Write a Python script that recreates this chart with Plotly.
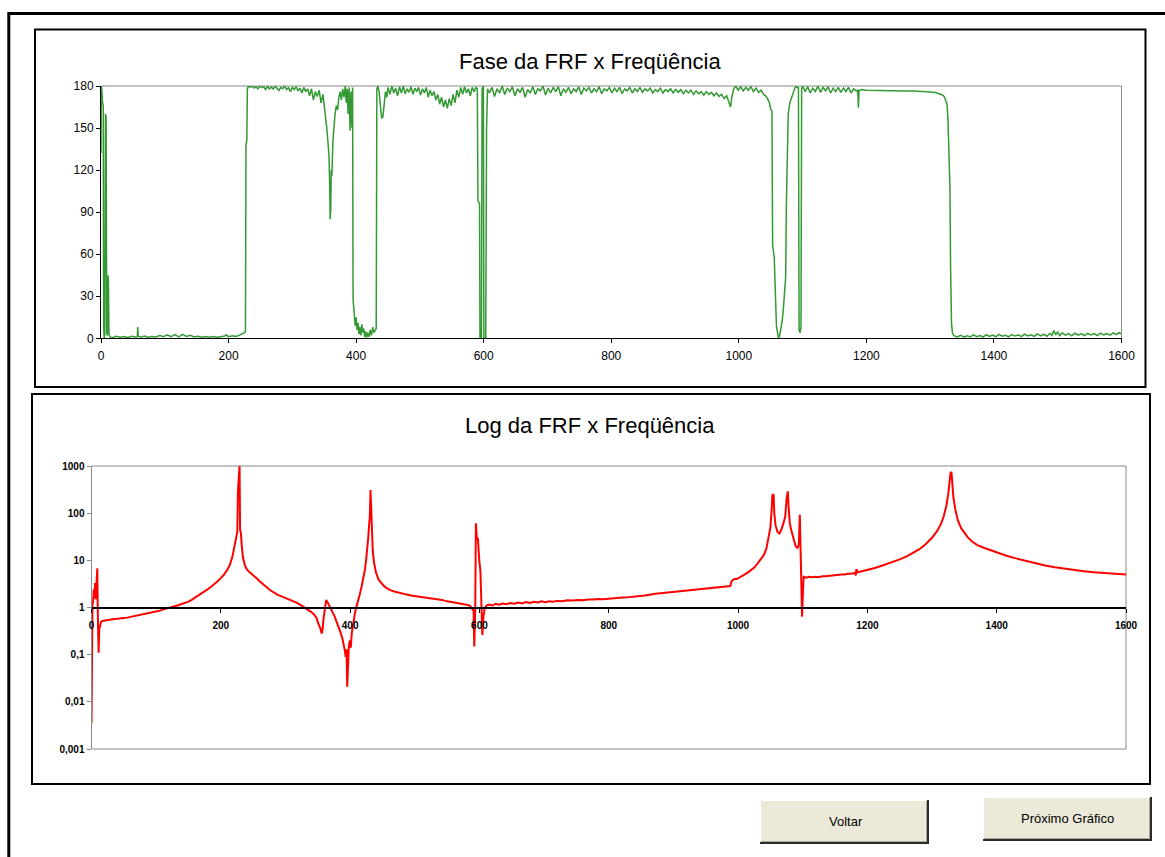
import plotly.graph_objects as go

W, H = 1165, 857

# ---------------- Fase da FRF (graus) ----------------
fase_freq = [
    0, 0.5, 1.5, 2.5, 3.5, 4.2, 5, 6, 7, 8,
    9, 10, 10.8, 11.6, 12.5, 14, 18, 24, 30, 36,
    42, 48, 54, 57, 57.5, 58.5, 62, 68, 74, 80,
    86, 92, 98, 104, 110, 116, 122, 128, 134, 140,
    146, 152, 158, 164, 170, 176, 182, 188, 194, 196,
    200, 206, 212, 218, 222, 225, 226.5, 227.3, 228.6, 229.5,
    231, 234, 237, 240, 243, 246, 249, 252, 255, 258,
    261, 264, 267, 270, 273, 276, 279, 282, 285, 288,
    291, 294, 297, 300, 303, 306, 309, 312, 315, 318,
    321, 324, 327, 330, 333, 336, 339, 342, 345, 348,
    350, 352, 354, 356, 357.5, 358.5, 359.3, 360.2, 361, 362,
    363.5, 365, 367, 369, 371, 373, 375, 377, 379, 381,
    383, 384.5, 386, 387.5, 389, 390.5, 392, 393.5, 394.5, 395.2,
    396, 397, 398.5, 400, 401.5, 403, 404.5, 406, 407.5, 409,
    410.5, 412, 413.5, 415, 416.5, 418, 420, 422, 424, 426,
    428, 430, 431.5, 432.5, 434, 436, 438, 440, 442, 444,
    446, 448, 450, 453, 456, 459, 462, 465, 468, 471,
    474, 477, 480, 483, 486, 489, 492, 495, 498, 501,
    504, 507, 510, 513, 516, 519, 522, 525, 528, 531,
    534, 537, 540, 543, 546, 549, 552, 555, 558, 561,
    564, 567, 570, 573, 576, 579, 582, 585, 588, 590,
    591, 593.5, 594.2, 596.5, 597.5, 599.5, 600.3, 603.2, 604.5, 606,
    609, 613, 617, 621, 625, 629, 633, 637, 641, 645,
    649, 653, 657, 661, 665, 669, 673, 677, 681, 685,
    689, 693, 697, 701, 705, 709, 713, 717, 721, 725,
    729, 733, 737, 741, 745, 749, 753, 757, 761, 765,
    769, 773, 777, 781, 785, 789, 793, 797, 801, 805,
    809, 813, 817, 821, 825, 829, 833, 837, 841, 845,
    849, 853, 857, 861, 865, 869, 873, 877, 881, 885,
    889, 893, 897, 901, 905, 909, 913, 917, 921, 925,
    929, 933, 937, 941, 945, 949, 953, 957, 961, 965,
    969, 973, 977, 981, 985, 987, 989, 992, 995, 999,
    1003, 1007, 1011, 1015, 1019, 1023, 1027, 1031, 1035, 1039,
    1042, 1045, 1048, 1050, 1052, 1053, 1055.5, 1057.5, 1059, 1061,
    1062.5, 1064, 1066, 1068, 1070, 1072, 1073.5, 1074.5, 1076, 1077.5,
    1080, 1083, 1086, 1089, 1091, 1093.5, 1094.5, 1096, 1097.5, 1098.5,
    1100, 1104, 1108, 1112, 1116, 1120, 1124, 1128, 1132, 1136,
    1140, 1144, 1148, 1152, 1156, 1160, 1164, 1168, 1172, 1176,
    1180, 1184, 1186.5, 1187.5, 1188.5, 1192, 1200, 1215, 1230, 1245,
    1260, 1275, 1290, 1300, 1308, 1314, 1318.5, 1322, 1324, 1326.5,
    1328, 1329.5, 1331, 1332, 1333.5, 1335, 1337, 1342, 1348, 1353,
    1358, 1363, 1368, 1373, 1378, 1383, 1388, 1393, 1398, 1403,
    1408, 1413, 1418, 1423, 1428, 1433, 1438, 1443, 1448, 1453,
    1458, 1463, 1468, 1473, 1478, 1483, 1488, 1491, 1494, 1497,
    1500, 1503, 1507, 1512, 1517, 1522, 1527, 1532, 1537, 1542,
    1547, 1552, 1557, 1562, 1567, 1572, 1577, 1582, 1587, 1592,
    1596, 1600,
]
fase_graus = [
    132, 180, 176, 168, 166, 8, 0, 3, 160, 158,
    4, 2, 45, 42, 3, 1, 0.5, 1.5, 0.8, 1.2,
    0.6, 1.4, 1.0, 1.2, 8, 1.5, 0.8, 1.6, 0.7, 1.3,
    0.9, 2.0, 1.1, 2.4, 1.2, 2.6, 1.0, 2.8, 1.3, 2.2,
    0.9, 1.5, 0.8, 1.3, 0.7, 1.2, 0.8, 1.0, 1.6, 2.5,
    1.2, 1.8, 1.3, 2.4, 3.2, 4.0, 5, 138, 141, 178,
    180, 179, 180, 178.5, 179.5, 178, 180, 178.8, 179.5, 177.5,
    179.8, 178, 179.2, 177.8, 180, 178.5, 176.8, 179, 178, 180,
    177.5, 178.8, 176, 179, 177.5, 179.5, 176.5, 178.5, 175, 179,
    176, 178, 173, 178, 170, 176, 172.5, 177, 168, 174,
    166, 160, 150, 139, 130, 110, 85, 92, 120, 116,
    140, 150, 160, 166, 163, 172, 176, 170, 178, 172,
    180, 168, 178, 160, 179, 148, 176, 150, 179, 28,
    22, 14, 9, 15, 6, 11, 3, 8, 2, 10,
    4, 7, 1, 5, 0.5, 4, 1, 6, 2, 8,
    4, 6, 7, 178, 180, 176, 168, 157, 158, 168,
    176, 172, 179, 174, 180, 175, 178.5, 173, 179.5, 175,
    180, 174.5, 178, 175.5, 179.5, 174, 178.5, 176, 179, 173.5,
    178, 175, 179, 172, 177, 173, 176, 170, 174, 167,
    172, 165, 170, 164, 171, 166, 174, 168, 177, 172,
    179, 174, 179.5, 175, 178, 173, 179, 176, 179, 178,
    98, 96, 0, 0, 178, 180, 0, 0, 150, 178,
    175, 179, 172.5, 178, 175, 180, 174, 178.5, 176, 179.5,
    173, 178, 175.5, 179, 172, 177.5, 175, 179.5, 174, 178,
    176.5, 180, 173.5, 178.5, 175, 179, 176, 179.5, 173, 178,
    175.5, 179, 174.5, 178, 176, 179.5, 174, 178.5, 176.5, 179,
    175, 178, 176, 179.5, 174.5, 178, 176.5, 179, 175, 178.5,
    176, 179, 174.5, 178, 176.5, 179, 175, 178, 176, 179,
    175.5, 178, 176.5, 178.5, 175, 177.5, 176, 178.5, 175, 177.5,
    176, 178, 175, 177.5, 175.5, 177.5, 174.5, 177, 175, 177,
    174, 176.5, 174.5, 176, 173.5, 176, 174, 175.5, 173, 175,
    172.5, 174, 171, 173, 168, 165, 172, 178, 180, 177,
    179.5, 176.5, 179, 177, 179.5, 176, 178.5, 175.5, 177, 174,
    173, 171, 168, 163.5, 162, 66, 58, 30, 9, 3,
    0, 2, 8, 12, 22, 38, 44, 94, 120, 160,
    168, 172, 177, 180, 179, 179, 6, 4, 8, 178,
    180, 176, 179.5, 175, 178.5, 176, 180, 175.5, 179, 176.5,
    179.5, 175, 178.5, 176, 179, 175.5, 178.5, 176, 179, 175,
    178, 176.5, 177, 164.5, 176.5, 177.5, 177, 177, 176.8, 176.7,
    176.5, 176.4, 176.2, 175.8, 175.3, 174.7, 173.8, 172.5, 170.5, 167,
    155, 130, 108, 51, 10.5, 4, 2, 1, 2.2, 0.8,
    1.8, 1.0, 2.4, 1.2, 2.0, 0.9, 2.6, 1.3, 2.3, 1.1,
    2.8, 1.5, 2.2, 1.0, 2.7, 1.6, 2.4, 1.2, 3.0, 1.7,
    2.5, 1.4, 3.2, 1.8, 2.9, 1.5, 3.6, 2.0, 5.5, 2.4,
    4.8, 1.9, 3.8, 2.2, 3.4, 1.8, 3.6, 2.3, 3.2, 1.9,
    3.5, 2.4, 3.3, 2.0, 3.7, 2.5, 3.4, 2.2, 3.8, 2.6,
    4.0, 3.2,
]

# ---------------- Módulo da FRF (escala log) ----------------
log_freq = [
    0, 0.4, 0.9, 1.5, 2.5, 3.5, 4.5, 5.5, 6.3, 7,
    8, 9, 9.6, 10.3, 11, 12, 13, 15, 17, 20,
    25, 30, 35, 40, 45, 50, 55, 60, 65, 70,
    75, 80, 85, 90, 95, 100, 105, 110, 115, 120,
    125, 130, 135, 140, 145, 150, 155, 160, 165, 170,
    175, 180, 185, 190, 195, 200, 205, 210, 214, 218,
    221, 224, 225.5, 226.5, 227.5, 228.3, 229, 229.8, 231, 232.5,
    234, 237, 240, 245, 250, 255, 260, 265, 270, 276,
    282, 288, 295, 302, 310, 318, 325, 330, 335, 340,
    344, 348, 351, 354, 356, 357.5, 359, 361, 363, 365,
    367, 370, 373, 376, 379, 382, 385, 388, 390, 392,
    393, 394.5, 395.5, 396.5, 398, 399.5, 401, 402.5, 404.5, 407,
    409, 412, 415, 418, 421, 423, 425, 426.5, 428, 429.5,
    430.5, 431.5, 432.5, 433.5, 435, 437, 440, 444, 448, 453,
    458, 463, 470, 478, 486, 494, 502, 510, 518, 526,
    534, 542, 550, 558, 566, 574, 580, 585, 589, 591,
    592, 593.5, 594.5, 596, 597.5, 598.5, 600, 601.5, 603, 604.5,
    606, 608, 611, 615, 620, 625, 630, 636, 642, 648,
    654, 660, 666, 672, 678, 684, 690, 696, 702, 708,
    714, 720, 728, 736, 744, 752, 760, 768, 776, 784,
    792, 800, 808, 816, 824, 832, 840, 848, 856, 864,
    872, 880, 888, 896, 904, 912, 920, 928, 936, 944,
    952, 960, 968, 976, 984, 988, 990, 994, 998, 1002,
    1006, 1010, 1015, 1020, 1025, 1030, 1035, 1040, 1044, 1047,
    1050, 1052, 1053, 1055, 1056, 1058, 1061, 1064, 1067, 1070,
    1073, 1075, 1077, 1078, 1080, 1083, 1086, 1089, 1092, 1094,
    1095.5, 1096.5, 1098, 1099, 1100.5, 1101.5, 1105, 1110, 1115, 1120,
    1125, 1130, 1135, 1140, 1145, 1150, 1155, 1160, 1165, 1170,
    1175, 1180, 1182, 1183, 1185, 1190, 1195, 1200, 1210, 1220,
    1230, 1240, 1250, 1260, 1270, 1280, 1290, 1300, 1308, 1314,
    1318, 1322, 1325, 1327, 1328.5, 1330, 1331.5, 1333, 1336, 1340,
    1345, 1350, 1355, 1362, 1370, 1380, 1390, 1400, 1415, 1430,
    1445, 1460, 1475, 1490, 1505, 1520, 1535, 1550, 1565, 1580,
    1600,
]
log_frf = [
    0.0035, 0.09, 0.08, 1.2, 1.3, 2.4, 1.6, 3.3, 1.5, 2.2,
    3.5, 6.8, 1.0, 0.12, 0.11, 0.35, 0.42, 0.5, 0.52, 0.53,
    0.55, 0.56, 0.57, 0.58, 0.58, 0.6, 0.61, 0.63, 0.64, 0.66,
    0.68, 0.7, 0.72, 0.75, 0.78, 0.81, 0.85, 0.9, 0.95, 0.98,
    1.03, 1.08, 1.13, 1.19, 1.26, 1.33, 1.45, 1.6, 1.78, 1.98,
    2.2, 2.45, 2.75, 3.1, 3.6, 4.2, 5.0, 6.3, 8.0, 12,
    20, 35, 40, 300, 550, 980, 1000, 45, 38, 20,
    12, 8, 6.5, 5.5, 4.9, 4.2, 3.6, 3.1, 2.75, 2.35,
    2.1, 1.85, 1.7, 1.55, 1.4, 1.25, 1.1, 1.0, 0.9, 0.8,
    0.72, 0.6, 0.45, 0.36, 0.28, 0.35, 0.6, 1.1, 1.45, 1.3,
    1.15, 0.95, 0.78, 0.65, 0.5, 0.4, 0.3, 0.22, 0.17, 0.12,
    0.09, 0.13, 0.021, 0.05, 0.15, 0.2, 0.14, 0.28, 0.45, 0.7,
    0.95, 1.3, 1.9, 2.9, 4.5, 6.5, 11, 16, 30, 60,
    85, 310, 120, 35, 16, 9, 5.5, 3.9, 3.3, 2.8,
    2.5, 2.3, 2.15, 2.0, 1.9, 1.8, 1.72, 1.65, 1.6, 1.55,
    1.5, 1.45, 1.35, 1.3, 1.25, 1.18, 1.15, 1.1, 0.95, 0.85,
    0.15, 0.9, 61, 28, 30, 14, 9, 6, 1.0, 0.26,
    0.6, 0.95, 1.1, 1.15, 1.1, 1.2, 1.15, 1.22, 1.18, 1.25,
    1.2, 1.28, 1.22, 1.3, 1.25, 1.32, 1.28, 1.35, 1.3, 1.36,
    1.32, 1.38, 1.36, 1.42, 1.4, 1.45, 1.43, 1.48, 1.47, 1.52,
    1.5, 1.55, 1.55, 1.6, 1.62, 1.68, 1.7, 1.76, 1.8, 1.9,
    1.95, 2.0, 2.05, 2.1, 2.2, 2.2, 2.3, 2.35, 2.45, 2.5,
    2.55, 2.6, 2.7, 2.75, 2.8, 2.85, 3.6, 4.0, 4.0, 4.3,
    4.6, 5.0, 5.5, 6.2, 7.0, 8.5, 10.5, 13, 18, 28,
    50, 120, 240, 250, 100, 55, 40, 37, 45, 60,
    85, 200, 290, 150, 60, 40, 28, 20, 18, 22,
    92, 12, 3, 0.64, 2.5, 4.5, 4.3, 4.5, 4.4, 4.5,
    4.4, 4.6, 4.6, 4.7, 4.8, 4.8, 4.9, 5.0, 5.0, 5.2,
    5.2, 5.4, 4.8, 6.5, 5.6, 5.8, 6.0, 6.3, 6.8, 7.5,
    8.3, 9.3, 10.5, 12, 14, 17, 22, 30, 42, 60,
    85, 140, 250, 500, 700, 750, 400, 220, 120, 70,
    48, 38, 31, 25, 21, 18.5, 16.5, 15, 12.5, 11,
    9.8, 8.6, 7.8, 7.1, 6.6, 6.2, 5.9, 5.6, 5.4, 5.2,
    5.0,
]

assert len(fase_freq) == len(fase_graus)
assert len(log_freq) == len(log_frf)

freq_ticks = [0, 200, 400, 600, 800, 1000, 1200, 1400, 1600]
fase_ticks = [0, 30, 60, 90, 120, 150, 180]
log_ticks = [0.001, 0.01, 0.1, 1, 10, 100, 1000]
log_ticktext = ["0,001", "0,01", "0,1", "1", "10", "100", "1000"]

titulo_fase = "Fase da FRF x Freqüência"
titulo_log = "Log da FRF x Freqüência"
botao_voltar = "Voltar"
botao_proximo = "Próximo Gráfico"

FONTE = "Liberation Sans, Arial, sans-serif"
VERDE = "#339933"
VERMELHO = "#ff0000"
CINZA = "#8a8a8a"


def px(x):
    return x / W


def py(y):
    return 1 - y / H


fig = go.Figure()

fig.add_trace(go.Scatter(
    x=fase_freq, y=fase_graus, mode="lines",
    line=dict(color=VERDE, width=1.5),
    xaxis="x", yaxis="y", showlegend=False, hoverinfo="skip",
))
fig.add_trace(go.Scatter(
    x=log_freq, y=log_frf, mode="lines",
    line=dict(color=VERMELHO, width=2),
    xaxis="x2", yaxis="y2", showlegend=False, hoverinfo="skip",
))

# automargin desligado: as coordenadas "paper" cobrem a figura inteira
eixo_comum = dict(showgrid=False, zeroline=False, fixedrange=True,
                  ticks="outside", ticklen=4, automargin=False)

fig.update_layout(
    width=W, height=H,
    margin=dict(l=0, r=0, t=0, b=0, pad=0, autoexpand=False),
    paper_bgcolor="white", plot_bgcolor="white",
    font=dict(family=FONTE, color="black"),
    xaxis=dict(
        domain=[px(101), px(1121.5)], range=[0, 1600], anchor="y",
        tickvals=freq_ticks, showline=True, linecolor="black", linewidth=1,
        tickcolor="black", tickfont=dict(size=12, family=FONTE),
        ticklabelstandoff=2, layer="below traces", **eixo_comum,
    ),
    yaxis=dict(
        domain=[py(338.3), py(86)], range=[0, 180], anchor="x",
        tickvals=fase_ticks, showline=True, linecolor="black", linewidth=1,
        tickcolor="black", tickfont=dict(size=12, family=FONTE),
        **eixo_comum,
    ),
    xaxis2=dict(
        domain=[px(91.5), px(1126)], range=[0, 1600], anchor="free",
        position=py(608), tickvals=freq_ticks, showline=True,
        linecolor="black", linewidth=1.5, tickcolor="black",
        tickfont=dict(size=10, family=FONTE, weight="bold"),
        ticklabelstandoff=4, **eixo_comum,
    ),
    yaxis2=dict(
        type="log", domain=[py(749), py(466)], range=[-3, 3], anchor="x2",
        tickvals=log_ticks, ticktext=log_ticktext, showline=True,
        linecolor=CINZA, linewidth=1, tickcolor=CINZA,
        tickfont=dict(size=10, family=FONTE, weight="bold"),
        **eixo_comum,
    ),
)

shapes = []


def linha(x0, y0, x1, y1, cor, largura, camada="above"):
    shapes.append(dict(type="line", xref="paper", yref="paper",
                       x0=px(x0), y0=py(y0), x1=px(x1), y1=py(y1),
                       line=dict(color=cor, width=largura), layer=camada))


def retangulo(x0, y0, x1, y1, cor, largura, preenchimento=None, camada="above"):
    d = dict(type="rect", xref="paper", yref="paper",
             x0=px(x0), y0=py(y1), x1=px(x1), y1=py(y0),
             line=dict(color=cor, width=largura), layer=camada)
    if preenchimento:
        d["fillcolor"] = preenchimento
    shapes.append(d)


# moldura externa
linha(8.8, 13.5, 1165, 13.5, "black", 3)
linha(8.8, 12, 8.8, 857, "black", 3)

# molduras dos gráficos
retangulo(35, 29.5, 1145.5, 387, "black", 2)
retangulo(32, 394, 1150, 784, "black", 2)

# borda cinza das áreas de plotagem
linha(101, 86, 1121.5, 86, CINZA, 1, "below")
linha(1121.5, 86, 1121.5, 338.3, CINZA, 1, "below")
retangulo(91.5, 466, 1126, 749, CINZA, 1, camada="below")

# botões
for (x0, y0, x1, y1) in [(760, 800, 929, 844), (983, 797, 1152, 841)]:
    retangulo(x0, y0, x1, y1, "rgba(0,0,0,0)", 0, preenchimento="#ece9d8")
    linha(x0, y0 + 0.5, x1, y0 + 0.5, "white", 1)
    linha(x0 + 0.5, y0, x0 + 0.5, y1, "white", 1)
    linha(x0, y1 - 1, x1, y1 - 1, "#2b2b2b", 2)
    linha(x1 - 1, y0, x1 - 1, y1, "#2b2b2b", 2)
    linha(x0 + 1, y1 - 2.5, x1 - 2, y1 - 2.5, "#aca899", 1)
    linha(x1 - 2.5, y0 + 1, x1 - 2.5, y1 - 2, "#aca899", 1)

fig.update_layout(shapes=shapes)

annotations = [
    dict(text=titulo_fase, x=px(590), y=py(61), font=dict(size=22)),
    dict(text=titulo_log, x=px(590), y=py(425), font=dict(size=22)),
    dict(text=botao_voltar, x=px(846), y=py(821), font=dict(size=13)),
    dict(text=botao_proximo, x=px(1067), y=py(818), font=dict(size=13)),
]
for a in annotations:
    a.update(xref="paper", yref="paper", showarrow=False,
             xanchor="center", yanchor="middle")
    a["font"].update(family=FONTE, color="black")
fig.update_layout(annotations=annotations)

fig.write_html("out.html")
